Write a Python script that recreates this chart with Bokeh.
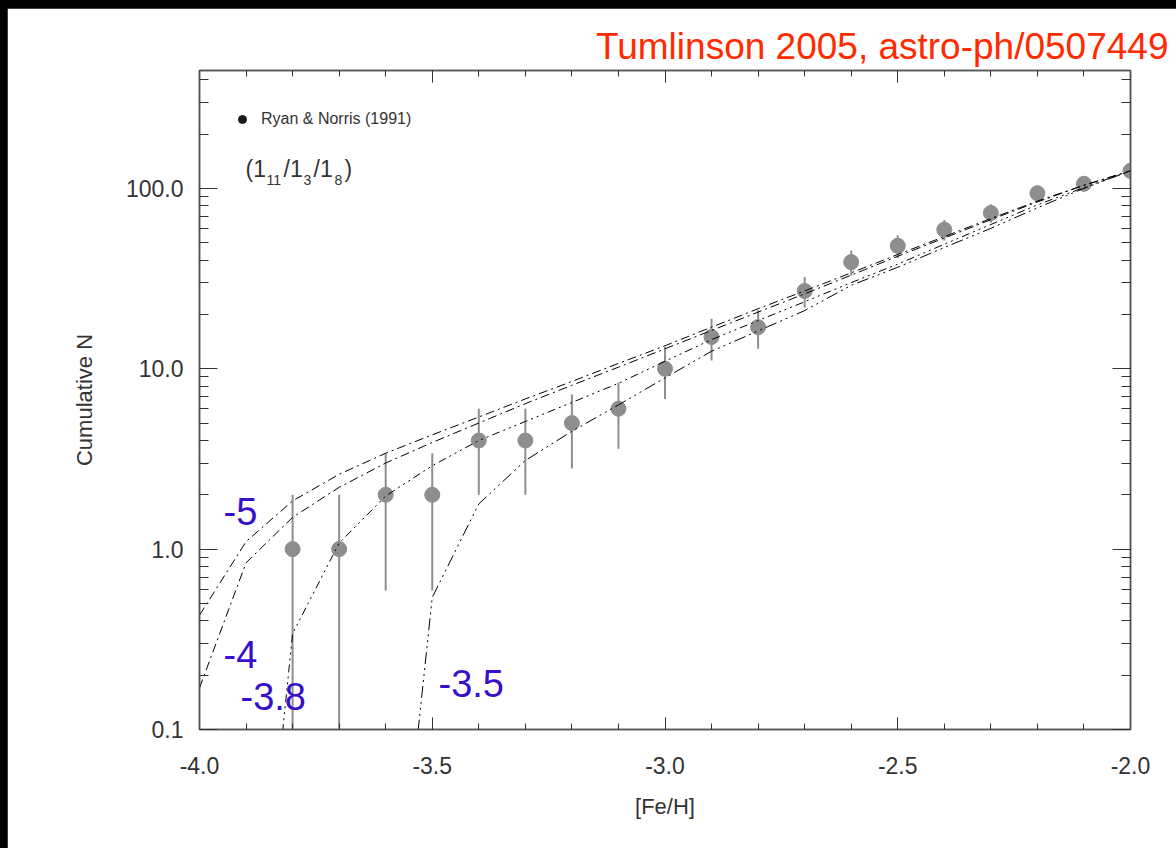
import math
from bokeh.plotting import figure
from bokeh.models import (LinearAxis, LogAxis, FixedTicker, PrintfTickFormatter,
                          Label, Legend, LegendItem, Title)
from bokeh.layouts import column
from bokeh.embed import file_html
from bokeh.resources import INLINE

# ---------------- data ----------------
feh_obs = [-3.8, -3.7, -3.6, -3.5, -3.4, -3.3, -3.2, -3.1, -3.0, -2.9,
           -2.8, -2.7, -2.6, -2.5, -2.4, -2.3, -2.2, -2.1, -2.0]
n_obs = [1, 1, 2, 2, 4, 4, 5, 6, 10, 15, 17, 27, 39, 48, 59, 73, 94, 106, 125]
err_hi = [2.0, 2.0, 3.4, 3.4, 6.0, 6.0, 7.2, 8.4, 13.2, 18.9, 21.1, 32.2,
          45.2, 54.9, 66.7, 81.5, 103.7, 116.3, 136.2]
err_lo = [0.05, 0.05, 0.59, 0.59, 2.0, 2.0, 2.8, 3.6, 6.8, 11.1, 12.9, 21.8,
          32.8, 41.1, 51.3, 64.5, 84.3, 95.7, 113.8]

nan = float("nan")
feh_model = [-4.0, -3.9, -3.8, -3.7, -3.6, -3.5, -3.4, -3.3, -3.2, -3.1, -3.0,
             -2.9, -2.8, -2.7, -2.6, -2.5, -2.4, -2.3, -2.2, -2.1, -2.0]
model_zc_m5 = [0.43, 1.1, 1.85, 2.6, 3.4, 4.3, 5.4, 6.8, 8.5, 10.7, 13.4,
               17.0, 21.5, 27, 34, 43, 54, 68, 85, 104, 125]
model_zc_m4 = [0.17, 0.84, 1.5, 2.2, 3.0, 3.9, 5.0, 6.4, 8.1, 10.2, 12.9,
               16.3, 20.6, 26, 33, 42, 53, 67, 84, 104, 125]
model_zc_m38 = [nan, 0.001, 0.34, 1.08, 1.97, 2.9, 4.0, 5.1, 6.5, 8.3, 11.0,
                14.5, 18.5, 23.5, 30, 38, 49, 63, 81, 101, 125]
model_zc_m35 = [nan, nan, nan, nan, 0.002, 0.54, 1.78, 3.1, 4.5, 6.3, 8.9,
                12.5, 16.2, 21, 29, 36.5, 47, 60, 78, 100, 125]
model_labels = ["-5", "-4", "-3.8", "-3.5"]

x_ticks = [-4.0, -3.5, -3.0, -2.5, -2.0]
y_ticks = [0.1, 1.0, 10.0, 100.0]

FONT = "Liberation Sans"
TXT = "#333333"
GRAY = "#8e8e90"
BLUE = "#3810cc"

# ---------------- figure ----------------
p = figure(width=1169, height=840, x_range=(-4.0, -2.0), y_range=(0.1, 450),
           y_axis_type="log", output_backend="svg", toolbar_location=None,
           min_border_left=192, min_border_right=46, min_border_top=62,
           min_border_bottom=119)
p.margin = (8, 0, 0, 7)
p.background_fill_color = "white"
p.border_fill_color = "white"
p.outline_line_color = "#555555"
p.outline_line_width = 1.5
p.xgrid.visible = False
p.ygrid.visible = False

p.title = Title(text="Tumlinson 2005, astro-ph/0507449", align="right",
                offset=-38, standoff=8, text_font=FONT, text_font_size="37px",
                text_font_style="normal", text_color="#ff2a00")

x_minor = [round(-4.0 + 0.1 * i, 1) for i in range(21)]
y_minor = [m * d for d in (0.1, 1, 10) for m in range(2, 10)] + [200, 300, 400]

def common(ax, labels, standoff):
    ax.formatter = PrintfTickFormatter(format="%.1f")
    ax.major_tick_out = 0
    ax.minor_tick_out = 0
    ax.axis_line_color = "#555555"
    ax.axis_line_width = 1.5
    ax.major_tick_line_color = "#333333"
    ax.minor_tick_line_color = "#333333"
    if labels:
        ax.major_label_text_font = FONT
        ax.major_label_text_font_size = "23px"
        ax.major_label_text_color = TXT
        ax.major_label_standoff = standoff
    else:
        ax.major_label_text_font_size = "0px"
        ax.major_label_text_color = None
        ax.major_label_standoff = 0

def style_x(ax, labels=True):
    ax.ticker = FixedTicker(ticks=x_ticks, minor_ticks=x_minor)
    ax.major_tick_in = 12
    ax.minor_tick_in = 6
    common(ax, labels, 27)

def style_y(ax, labels=True):
    ax.ticker = FixedTicker(ticks=y_ticks, minor_ticks=y_minor)
    ax.major_tick_in = 18
    ax.minor_tick_in = 9
    common(ax, labels, 16)

style_x(p.xaxis[0])
style_y(p.yaxis[0])
p.xaxis[0].axis_label = "[Fe/H]"
p.yaxis[0].axis_label = "Cumulative N"
for ax in (p.xaxis[0], p.yaxis[0]):
    ax.axis_label_text_font = FONT
    ax.axis_label_text_font_size = "22px"
    ax.axis_label_text_font_style = "normal"
    ax.axis_label_text_color = TXT
p.xaxis[0].axis_label_standoff = 17
p.yaxis[0].axis_label_standoff = 26

top = LinearAxis()
style_x(top, labels=False)
p.add_layout(top, "above")
right = LogAxis()
style_y(right, labels=False)
p.add_layout(right, "right")

# ---------------- observations ----------------
p.segment(x0=feh_obs, y0=err_lo, x1=feh_obs, y1=err_hi,
          line_color=GRAY, line_width=2)
p.scatter(feh_obs, n_obs, size=15, fill_color=GRAY, line_color=GRAY)

# ---------------- models ----------------
dashes = ["9 4 2 4", "9 4 2 4", "8 4 2 4 2 4 2 4", "12 4 2 4 2 4 2 4"]
for ys, d in zip([model_zc_m5, model_zc_m4, model_zc_m38, model_zc_m35], dashes):
    p.line(feh_model, ys, line_color="black", line_width=1, line_dash=d)

def sx(px):
    return -4.0 + (px - 199) / 465.5

def sy(py):
    return 10 ** (2 - (py - 187.3) / 180.4)

# curve labels: (left pixel, baseline pixel) converted to data coordinates
label_px = [(223, 525), (223, 668), (240, 710), (438, 697)]
for txt, (lx, ly) in zip(model_labels, label_px):
    p.add_layout(Label(x=sx(lx), y=sy(ly - 15), text=txt, text_font=FONT,
                       text_font_size="38px", text_color=BLUE,
                       text_baseline="alphabetic", text_align="left"))

# ---------------- legend ----------------
dummy = p.scatter(x=[nan], y=[nan], size=11, fill_color="#1a1a1a",
                  line_color="#1a1a1a")
leg = Legend(items=[LegendItem(label="Ryan & Norris (1991)", renderers=[dummy])],
             location=(33, 600), padding=0, margin=0, spacing=0,
             glyph_width=20, glyph_height=20, label_standoff=9,
             label_text_font=FONT, label_text_font_size="16px",
             label_text_color=TXT, background_fill_alpha=0,
             border_line_color=None)
p.add_layout(leg)

# (1_11/1_3/1_8) annotation built from text pieces
pieces = [("(1", 245, 178, 23), ("11", 266, 185, 14),
          ("/1", 283, 178, 23), ("3", 303, 185, 14),
          ("/1", 313, 178, 23), ("8", 334, 185, 14),
          (")", 344, 178, 23)]
for t, px, py, fs in pieces:
    p.add_layout(Label(x=sx(px), y=sy(py - 0.45 * fs), text=t, text_font=FONT,
                       text_font_size=f"{fs}px", text_color=TXT,
                       text_baseline="alphabetic", text_align="left"))

root = column(p, styles={"background-color": "black"}, width=1176, height=848)
open("out.html", "w").write(file_html(root, INLINE))
